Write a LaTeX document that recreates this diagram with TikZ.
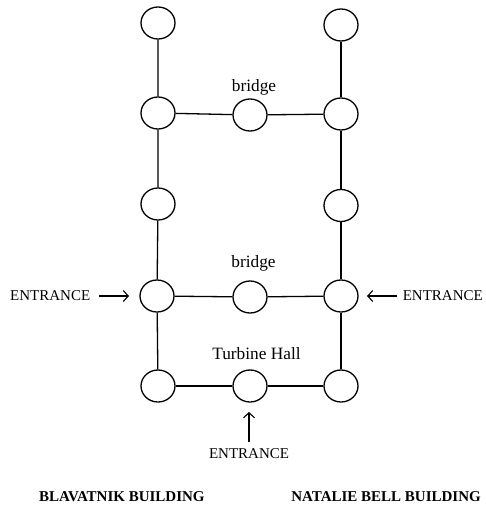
\documentclass[tikz,border=0pt]{standalone}
\usepackage{fontspec}
\setmainfont{Liberation Serif}
\usetikzlibrary{shapes.geometric,arrows.meta}
\begin{document}
\begin{tikzpicture}[x=1pt,y=-1pt,
  stop/.style={draw, ellipse, line width=1.3pt, minimum width=34pt, minimum height=32pt, inner sep=0pt},
  link/.style={line width=1.3pt},
  entry/.style={line width=1.1pt, -{Straight Barb[length=5pt,width=11pt]}},
  lbl/.style={font=\fontsize{15}{18}\selectfont, inner sep=0pt},
  sml/.style={font=\fontsize{17.3}{20}\selectfont, inner sep=0pt},
  bld/.style={font=\fontsize{15}{18}\selectfont\bfseries, inner sep=0pt}]
\useasboundingbox (0,0) rectangle (485,505);
% left column
\node[stop] (l1) at (158,23) {};
\node[stop] (l2) at (158,113) {};
\node[stop] (l3) at (158,204) {};
\node[stop] (l4) at (157,296) {};
\node[stop] (l5) at (158,386) {};
% right column
\node[stop] (r1) at (341,25) {};
\node[stop] (r2) at (341,114) {};
\node[stop] (r3) at (341,205.5) {};
\node[stop] (r4) at (341,296) {};
\node[stop] (r5) at (341,386) {};
% middle
\node[stop] (m2) at (250,115) {};
\node[stop] (m4) at (250,297) {};
\node[stop] (m5) at (250,386) {};
% verticals
\draw[link] (l1) -- (l2) (l2) -- (l3) (l3) -- (l4) (l4) -- (l5);
\draw[link] (r1) -- (r2) (r2) -- (r3) (r3) -- (r4) (r4) -- (r5);
% horizontals
\draw[link] (l2) -- (m2) (m2) -- (r2);
\draw[link] (l4) -- (m4) (m4) -- (r4);
\draw[link] (l5) -- (m5) (m5) -- (r5);
% labels
\node[sml] (b1) at (254,87) {bridge};
\node[sml] (b2) at (253.5,263) {bridge};
\node[sml] (th) at (256.5,354) {Turbine Hall};
% entrances
\node[lbl, anchor=west] (eL) at (10,296) {ENTRANCE};
\coordinate (eLs) at (99,296);
\coordinate (eLt) at (129,296);
\draw[entry] (eLs) -- (eLt);
\node[lbl, anchor=east] (eR) at (483,296) {ENTRANCE};
\coordinate (eRs) at (397,296);
\coordinate (eRt) at (367,296);
\draw[entry] (eRs) -- (eRt);
\node[lbl] (eB) at (249,454) {ENTRANCE};
\coordinate (eBs) at (249,442);
\coordinate (eBt) at (249,412);
\draw[entry] (eBs) -- (eBt);
% buildings
\node[bld, anchor=west] (bl) at (39,497) {BLAVATNIK BUILDING};
\node[bld, anchor=east] (nb) at (481,497) {NATALIE BELL BUILDING};
\end{tikzpicture}
\end{document}
